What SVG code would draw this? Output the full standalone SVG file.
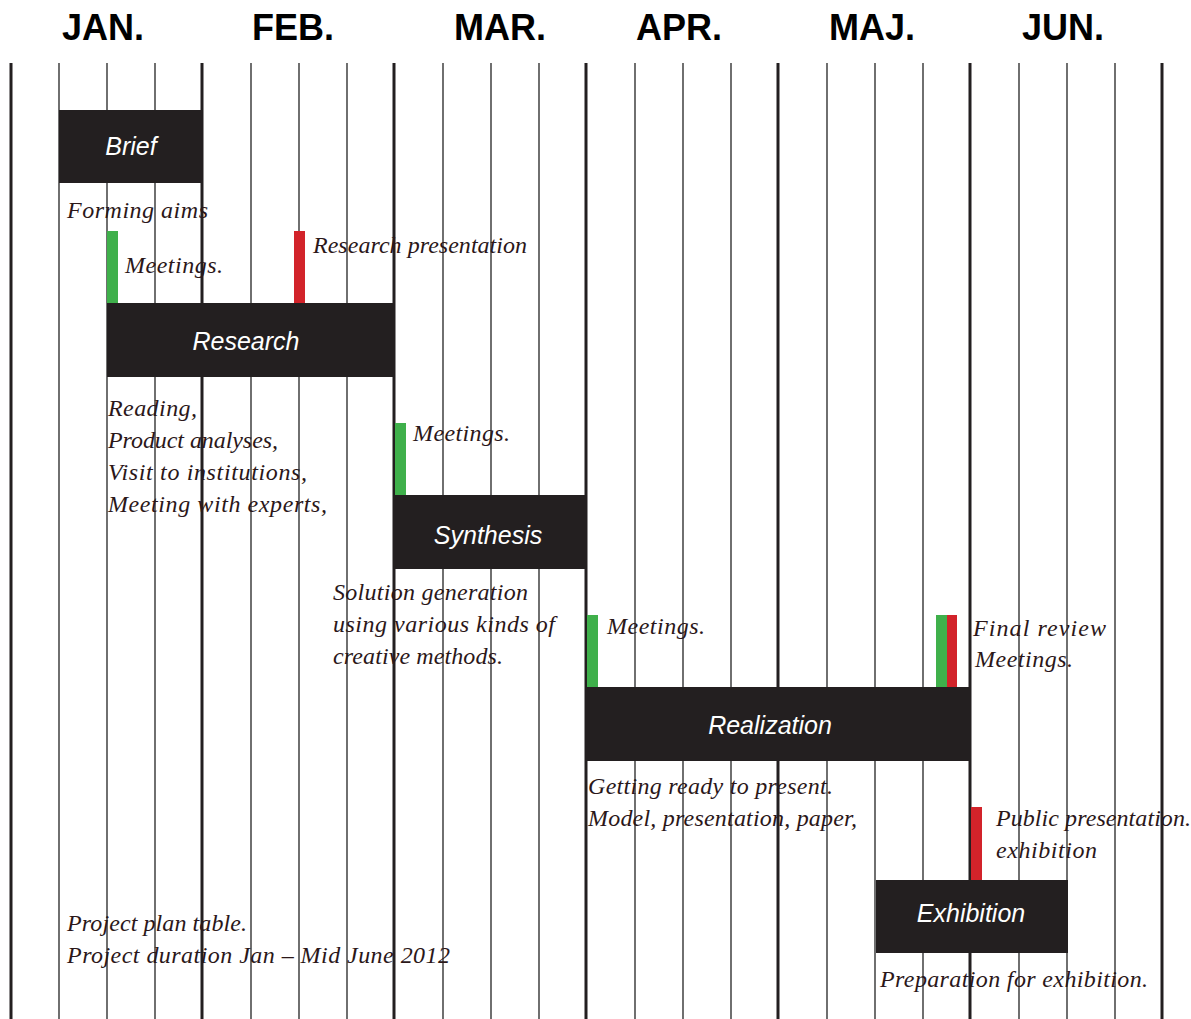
<svg xmlns="http://www.w3.org/2000/svg" width="1191" height="1019" viewBox="0 0 1191 1019">
<style>
.thick{stroke:#231f20;stroke-width:3}
.thin{stroke:#333;stroke-width:1.4}
.box{fill:#231f20}
.lbl{fill:#fff;font-family:"Liberation Sans",Arial,sans-serif;font-style:italic;font-size:25px;text-anchor:middle}
.note{fill:#2b1719;font-family:"Liberation Serif","Times New Roman",serif;font-style:italic;font-size:24px}
.mon{fill:#000;font-family:"Liberation Sans",Arial,sans-serif;font-weight:bold;font-size:36px;text-anchor:middle}
.g{fill:#3fb04b}
.r{fill:#d2232a}
</style>
<rect width="1191" height="1019" fill="#fff"/>
<g id="months">
<text class="mon" x="103" y="40">JAN.</text>
<text class="mon" x="293" y="40">FEB.</text>
<text class="mon" x="500" y="40">MAR.</text>
<text class="mon" x="679" y="40">APR.</text>
<text class="mon" x="872" y="40">MAJ.</text>
<text class="mon" x="1063" y="40">JUN.</text>
</g>
<g id="grid">
<line class="thick" x1="11" y1="63" x2="11" y2="1019"/>
<line class="thin" x1="59" y1="63" x2="59" y2="1019"/>
<line class="thin" x1="107" y1="63" x2="107" y2="1019"/>
<line class="thin" x1="155" y1="63" x2="155" y2="1019"/>
<line class="thick" x1="202" y1="63" x2="202" y2="1019"/>
<line class="thin" x1="251" y1="63" x2="251" y2="1019"/>
<line class="thin" x1="299" y1="63" x2="299" y2="1019"/>
<line class="thin" x1="347" y1="63" x2="347" y2="1019"/>
<line class="thick" x1="394" y1="63" x2="394" y2="1019"/>
<line class="thin" x1="443" y1="63" x2="443" y2="1019"/>
<line class="thin" x1="491" y1="63" x2="491" y2="1019"/>
<line class="thin" x1="539" y1="63" x2="539" y2="1019"/>
<line class="thick" x1="586" y1="63" x2="586" y2="1019"/>
<line class="thin" x1="635" y1="63" x2="635" y2="1019"/>
<line class="thin" x1="683" y1="63" x2="683" y2="1019"/>
<line class="thin" x1="731" y1="63" x2="731" y2="1019"/>
<line class="thick" x1="778" y1="63" x2="778" y2="1019"/>
<line class="thin" x1="827" y1="63" x2="827" y2="1019"/>
<line class="thin" x1="875" y1="63" x2="875" y2="1019"/>
<line class="thin" x1="923" y1="63" x2="923" y2="1019"/>
<line class="thick" x1="970" y1="63" x2="970" y2="1019"/>
<line class="thin" x1="1019" y1="63" x2="1019" y2="1019"/>
<line class="thin" x1="1067" y1="63" x2="1067" y2="1019"/>
<line class="thin" x1="1115" y1="63" x2="1115" y2="1019"/>
<line class="thick" x1="1162" y1="63" x2="1162" y2="1019"/>
</g>
<g id="markers">
<rect class="g" x="107" y="231" width="11" height="72"/>
<rect class="r" x="294" y="231" width="11" height="72"/>
<rect class="g" x="395" y="423" width="11" height="72"/>
<rect class="g" x="587" y="615" width="11" height="72"/>
<rect class="g" x="936" y="615" width="11" height="72"/>
<rect class="r" x="947" y="615" width="10" height="72"/>
<rect class="r" x="971" y="807" width="11" height="73"/>
</g>
<g id="brief">
<rect class="box" x="59" y="110" width="144" height="73"/>
<text class="lbl" x="131" y="155">Brief</text>
</g>
<g id="research">
<rect class="box" x="107" y="303" width="288" height="74"/>
<text class="lbl" x="246" y="350">Research</text>
</g>
<g id="synthesis">
<rect class="box" x="395" y="495" width="192" height="74"/>
<text class="lbl" x="488" y="544">Synthesis</text>
</g>
<g id="realization">
<rect class="box" x="587" y="687" width="384" height="74"/>
<text class="lbl" x="770" y="734">Realization</text>
</g>
<g id="exhibition">
<rect class="box" x="876" y="880" width="192" height="73"/>
<text class="lbl" x="971" y="922">Exhibition</text>
</g>
<g id="notes">
<text class="note" x="67" y="218" textLength="141" lengthAdjust="spacing">Forming aims</text>
<text class="note" x="125" y="273" textLength="98" lengthAdjust="spacing">Meetings.</text>
<text class="note" x="313" y="253" textLength="214" lengthAdjust="spacing">Research presentation</text>
<text class="note" x="108" y="416" textLength="89" lengthAdjust="spacing">Reading,</text>
<text class="note" x="108" y="448" textLength="170" lengthAdjust="spacing">Product analyses,</text>
<text class="note" x="108" y="480" textLength="199" lengthAdjust="spacing">Visit to institutions,</text>
<text class="note" x="108" y="512" textLength="219" lengthAdjust="spacing">Meeting with experts,</text>
<text class="note" x="413" y="441" textLength="97" lengthAdjust="spacing">Meetings.</text>
<text class="note" x="333" y="600" textLength="195" lengthAdjust="spacing">Solution generation</text>
<text class="note" x="333" y="632" textLength="222" lengthAdjust="spacing">using various kinds of</text>
<text class="note" x="333" y="664" textLength="170" lengthAdjust="spacing">creative methods.</text>
<text class="note" x="607" y="634" textLength="98" lengthAdjust="spacing">Meetings.</text>
<text class="note" x="973" y="636" textLength="133" lengthAdjust="spacing">Final review</text>
<text class="note" x="975" y="667" textLength="98" lengthAdjust="spacing">Meetings.</text>
<text class="note" x="588" y="794" textLength="245" lengthAdjust="spacing">Getting ready to present.</text>
<text class="note" x="588" y="826" textLength="269" lengthAdjust="spacing">Model, presentation, paper,</text>
<text class="note" x="996" y="826" textLength="195" lengthAdjust="spacing">Public presentation.</text>
<text class="note" x="996" y="858" textLength="101" lengthAdjust="spacing">exhibition</text>
<text class="note" x="67" y="931" textLength="180" lengthAdjust="spacing">Project plan table.</text>
<text class="note" x="67" y="963" textLength="383" lengthAdjust="spacing">Project duration Jan – Mid June 2012</text>
<text class="note" x="880" y="987" textLength="268" lengthAdjust="spacing">Preparation for exhibition.</text>
</g>
</svg>
